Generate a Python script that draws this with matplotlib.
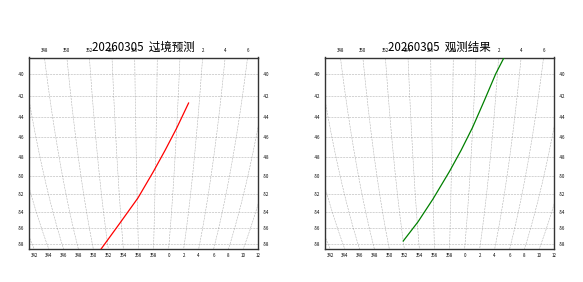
import numpy as np
import matplotlib
matplotlib.use("Agg")
import matplotlib.pyplot as plt

plt.rcParams['font.family'] = ['Noto Sans CJK SC', 'DejaVu Sans']

# ground track (lon in degrees east, negative = west of 0)
pred_lat = [-42.7, -45.1, -47.3, -49.5, -52.4, -55.4, -58.9]
pred_lon = [1.0, 0.0, -1.05, -2.2, -3.9, -6.2, -9.2]

obs_lat = [-38.3, -40.0, -42.5, -45.0, -47.3, -49.5, -52.5, -55.2, -57.6]
obs_lon = [2.6, 1.85, 0.95, 0.0, -1.05, -2.2, -4.0, -5.9, -8.0]

titles = ["20260305  过境预测", "20260305  观测结果"]
colors = ["red", "green"]

lat_ticks = [-40, -42, -44, -46, -48, -50, -52, -54, -56, -58]
lon_top = [348, 350, 352, 354, 356, 358, 0, 2, 4, 6]
lon_bottom = [342, 344, 346, 348, 350, 352, 354, 356, 358, 0, 2, 4, 6, 8, 10, 12]

# orthographic view centred on the equator
LON0 = -3.0
LAT_TOP = -38.56
LAT_BOT = -58.68


def proj(lon, lat):
    lon = (np.asarray(lon, dtype=float) + 180) % 360 - 180
    lam = np.radians(lon - LON0)
    phi = np.radians(np.asarray(lat, dtype=float))
    return np.cos(phi) * np.sin(lam), np.sin(phi)


fig = plt.figure(figsize=(5.83, 2.82), dpi=100)

W, H = 583.0, 282.0
ax_w, ax_h = 229.0, 191.8
lefts = [29.0, 325.0]
bottom_px = 249.3
scale = ax_h / (np.sin(np.radians(LAT_TOP)) - np.sin(np.radians(LAT_BOT)))
xlim = ((29.0 - 146.0) / scale, (258.0 - 146.0) / scale)

tracks = [(pred_lon, pred_lat), (obs_lon, obs_lat)]

for i in range(2):
    ax = fig.add_axes([lefts[i] / W, (H - bottom_px) / H, ax_w / W, ax_h / H])
    ax.set_xlim(xlim)
    ax.set_ylim(np.sin(np.radians(LAT_BOT)), np.sin(np.radians(LAT_TOP)))

    # graticule
    lat_dense = np.linspace(-64, -34, 200)
    for lon in range(330, 392, 2):
        gx, gy = proj(np.full_like(lat_dense, lon), lat_dense)
        ax.plot(gx, gy, color="gray", lw=0.4, ls="--", alpha=0.6, zorder=1)
    for lat in range(-64, -34, 2):
        ax.axhline(np.sin(np.radians(lat)), color="gray", lw=0.4, ls="--",
                   alpha=0.6, zorder=1)

    tx, ty = proj(tracks[i][0], tracks[i][1])
    ax.plot(tx, ty, color=colors[i], lw=0.9, zorder=3)

    # latitude labels both sides
    ax.set_yticks(np.sin(np.radians(lat_ticks)), [str(v) for v in lat_ticks])
    ax.tick_params(axis="y", length=0, labelsize=3.2, pad=3.6,
                   labelleft=True, labelright=True)

    # longitude labels where meridians meet the frame
    bx, _ = proj(lon_bottom, np.full(len(lon_bottom), LAT_BOT))
    ax.set_xticks(bx, [str(v) for v in lon_bottom])
    ax.tick_params(axis="x", length=0, labelsize=3.2, pad=2.7)

    sec = ax.secondary_xaxis("top")
    top_x, _ = proj(lon_top, np.full(len(lon_top), LAT_TOP))
    sec.set_xticks(top_x, [str(v) for v in lon_top])
    sec.tick_params(length=0, labelsize=3.2, pad=3.0)
    sec.spines["top"].set_visible(False)

    for s in ax.spines.values():
        s.set_color("#333333")
        s.set_linewidth(1.0)

    ax.text(0.5, 1.055, titles[i], transform=ax.transAxes, ha="center",
            va="center", fontsize=8.3, zorder=5)

fig.savefig("out.png", dpi=100)
